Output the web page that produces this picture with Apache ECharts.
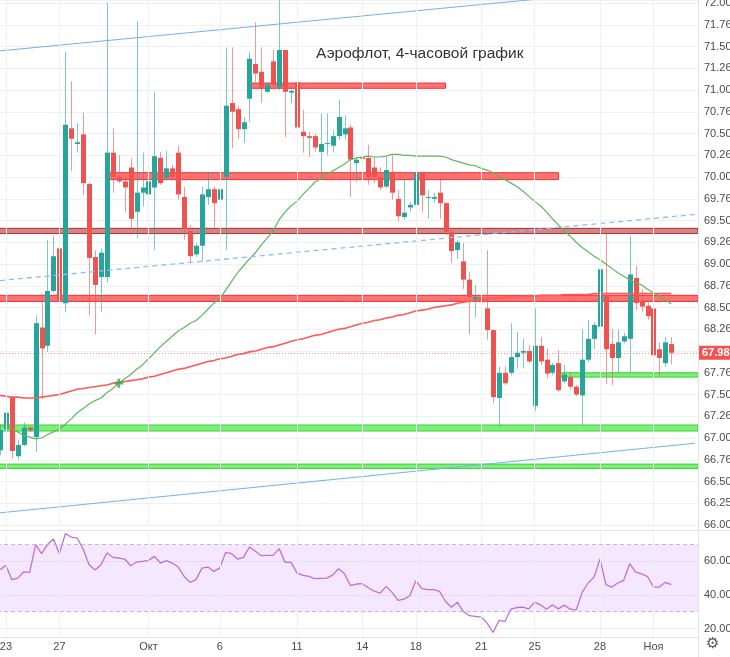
<!DOCTYPE html>
<html><head><meta charset="utf-8">
<script src="https://cdn.jsdelivr.net/npm/echarts/dist/echarts.min.js"></script>
<style>html,body{margin:0;padding:0;background:#fff}#c{width:730px;height:657px}</style>
</head><body><div id="c"></div>
<script>
// ---- data ----
const opens = [66.86,67.10,67.47,66.79,66.92,67.12,67.01,68.27,68.06,68.69,69.18,68.55,70.56,70.38,70.49,69.92,69.08,68.85,68.85,70.28,70.00,69.95,70.11,69.60,69.82,69.80,69.88,70.22,69.99,70.10,70.28,69.77,69.38,69.11,69.21,69.77,69.86,69.74,70.00,70.85,70.78,70.55,70.90,71.30,71.21,70.98,71.33,71.03,71.46,70.97,71.09,70.52,70.47,70.47,70.29,70.38,70.36,70.47,70.49,70.57,70.16,70.23,70.22,70.11,70.00,69.89,70.06,69.75,69.54,69.65,69.68,70.05,69.76,69.75,69.82,69.70,69.37,69.16,69.03,68.82,68.59,68.62,68.49,68.24,67.46,67.75,67.75,67.93,67.98,68.00,67.37,68.06,67.90,67.75,67.86,67.65,67.70,67.59,67.49,67.90,68.14,68.28,68.63,68.08,67.92,68.11,68.14,68.84,68.57,68.52,68.49,68.02,67.86,68.08];
const highs = [67.15,67.34,67.48,66.98,67.18,67.13,68.41,68.65,69.28,69.33,69.22,71.44,71.10,70.62,70.74,69.94,69.16,69.18,72.00,70.56,70.25,70.00,70.22,71.79,70.28,70.10,70.98,70.29,70.30,70.14,70.36,69.89,69.45,69.24,69.89,70.06,69.89,69.89,71.49,71.49,70.82,70.69,71.44,71.78,71.49,71.09,71.46,72.03,71.46,71.03,71.21,70.77,70.52,70.50,70.73,70.73,70.54,70.89,70.71,70.60,70.23,70.28,70.37,70.23,70.11,70.23,70.25,69.85,69.97,69.71,70.10,70.06,69.85,69.82,69.97,69.71,69.41,69.28,69.24,68.91,68.76,68.68,69.16,68.25,67.82,67.82,68.32,68.22,68.14,68.07,68.49,68.16,68.03,67.86,68.01,67.84,67.76,67.61,68.25,68.36,68.33,68.96,69.37,68.25,68.25,68.21,69.33,68.98,68.71,68.56,68.72,68.10,68.16,68.16];
const lows = [66.80,67.07,66.76,66.75,66.90,67.07,66.84,67.45,67.99,68.67,68.32,68.45,70.07,70.28,69.79,68.41,68.19,68.45,68.79,69.82,69.93,69.59,69.40,69.30,69.66,69.56,69.16,69.91,69.97,69.97,69.74,69.28,69.01,69.08,69.03,69.68,69.42,69.68,69.16,70.33,70.44,70.39,70.63,71.09,70.85,70.97,71.03,71.00,70.46,70.85,70.43,70.28,70.23,70.29,70.02,70.25,70.28,70.43,70.43,69.77,69.94,70.08,69.91,69.93,69.85,69.87,69.74,69.49,69.51,69.60,69.33,69.59,69.52,69.71,69.52,69.33,69.01,69.06,68.71,68.19,68.39,68.53,68.13,67.40,67.13,67.61,67.72,67.80,67.80,67.86,67.31,67.84,67.69,67.72,67.53,67.63,67.56,67.48,67.15,67.87,68.02,68.24,67.62,67.61,67.75,68.09,67.75,68.47,68.45,68.36,67.93,67.71,67.82,67.85];
const closes = [67.09,67.29,66.85,66.92,67.12,67.09,68.32,68.03,68.69,69.09,68.57,70.60,70.44,70.40,69.93,69.07,68.76,69.13,70.28,70.00,69.95,69.88,69.52,69.82,69.88,69.95,70.24,69.93,70.10,70.00,69.80,69.40,69.09,69.21,69.80,69.86,69.70,69.86,70.82,70.75,70.55,70.63,71.36,71.19,71.03,71.06,71.06,71.46,70.98,70.99,70.57,70.47,70.45,70.34,70.38,70.39,70.47,70.69,70.56,70.20,70.20,70.21,70.00,70.00,69.88,70.08,69.82,69.55,69.59,69.68,70.05,69.79,69.77,69.77,69.70,69.37,69.15,69.25,68.82,68.62,68.62,68.56,68.24,67.47,67.75,67.63,67.93,67.98,68.00,67.88,68.06,67.88,67.74,67.84,67.55,67.73,67.59,67.50,67.90,68.14,68.30,68.94,68.02,67.92,68.10,68.17,68.88,68.55,68.51,68.40,67.95,67.92,68.10,67.98];
const maLong = [67.49,67.48,67.47,67.47,67.46,67.46,67.46,67.47,67.48,67.49,67.50,67.52,67.54,67.56,67.57,67.58,67.59,67.60,67.61,67.63,67.64,67.65,67.66,67.67,67.68,67.70,67.71,67.73,67.75,67.77,67.79,67.80,67.82,67.84,67.86,67.88,67.89,67.91,67.92,67.94,67.96,67.97,67.99,68.00,68.02,68.04,68.05,68.07,68.09,68.11,68.13,68.14,68.16,68.18,68.19,68.21,68.23,68.25,68.26,68.28,68.30,68.32,68.33,68.35,68.36,68.38,68.39,68.41,68.42,68.44,68.46,68.47,68.48,68.50,68.51,68.52,68.53,68.55,68.56,68.57,68.58,68.59,68.60,68.61,68.61,68.62,68.62,68.62,68.63,68.63,68.63,68.64,68.64,68.64,68.64,68.65,68.65,68.65,68.65,68.65,68.66,68.66,68.66,68.66,68.66,68.66,68.66,68.66,68.66,68.66,68.66,68.66,68.66,68.66];
const maShort = [67.15,67.13,67.10,67.07,67.03,67.01,66.99,67.00,67.04,67.07,67.10,67.16,67.22,67.29,67.34,67.39,67.43,67.46,67.52,67.57,67.63,67.68,67.73,67.79,67.84,67.91,67.98,68.05,68.11,68.17,68.23,68.27,68.32,68.35,68.41,68.48,68.55,68.60,68.70,68.80,68.90,68.98,69.06,69.13,69.22,69.30,69.38,69.51,69.60,69.67,69.72,69.80,69.87,69.94,69.98,70.03,70.07,70.11,70.15,70.20,70.22,70.23,70.24,70.23,70.23,70.24,70.26,70.26,70.25,70.25,70.24,70.24,70.24,70.24,70.24,70.23,70.20,70.18,70.16,70.14,70.13,70.10,70.08,70.05,70.01,69.97,69.93,69.89,69.84,69.78,69.72,69.67,69.60,69.52,69.45,69.38,69.32,69.25,69.19,69.14,69.09,69.05,69.00,68.95,68.90,68.86,68.82,68.78,68.76,68.71,68.67,68.63,68.59,68.54];
const rsi = [55.0,57.6,49.1,50.0,53.8,53.4,70.0,64.6,70.0,73.3,64.6,76.5,74.5,73.9,67.4,58.0,54.8,58.0,65.0,62.4,62.0,61.4,57.4,59.6,60.0,60.6,63.0,59.0,60.4,59.0,56.6,51.0,47.5,49.1,56.0,56.6,54.0,56.0,65.4,64.6,61.4,62.4,68.6,66.0,63.4,63.6,63.6,67.6,59.4,59.4,53.0,51.6,51.0,49.7,49.9,50.0,51.8,55.6,52.6,45.5,46.5,46.7,44.3,42.2,41.1,45.1,41.5,36.7,37.5,39.5,48.5,43.7,43.1,43.1,42.1,36.1,32.7,35.7,30.1,27.6,27.2,26.8,23.2,17.6,24.8,24.2,31.5,32.5,32.7,31.7,35.7,34.1,31.5,34.1,31.7,33.9,31.5,31.1,41.5,47.1,50.6,61.4,46.1,44.7,47.1,48.7,58.6,53.6,52.6,51.0,44.7,44.7,47.5,46.1];
const totalSlots = 118;
const categories = Array.from({length: totalSlots}, (_, i) => String(i));
const dateLabelIdx = [1,10,25,37,50,61,70,81,90,101,110];
const dateLabelText = ['23','27','Окт','6','11','14','18','21','25','28','Ноя'];
const priceTickLabels = ['66.00','66.25','66.50','66.76','67.00','67.26','67.50','67.76','68.00','68.26','68.50','68.76','69.00','69.26','69.50','69.76','70.00','70.26','70.50','70.76','71.00','71.26','71.50','71.76','72.00'];
const rsiTickValues = [20, 40, 60];
const rsiTickLabels = ['20.00','40.00','60.00'];
const lastPrice = 67.98;
const upperTrend = [[0,71.45],[117,72.22]];
const midTrend = [[0,68.81],[117,69.57]];
const lowerTrend = [[0,66.14],[117,66.94]];
// zones: [lowPrice, highPrice, fromIndex|null, toIndex|null]
const redZonesBright = [[71.02,71.08,42,75],[69.97,70.05,18,94],[68.57,68.64,null,null]];
const redZonesDark = [[69.35,69.41,null,null]];
const greenZones = [[67.08,67.15,null,null],[66.65,66.70,null,null],[67.70,67.75,94,null]];
const crossPoint = [20, 67.63];
const title = 'Аэрофлот, 4-часовой график';

// ---- chart ----
const chart = echarts.init(document.getElementById('c'));
const FONT = 'Liberation Sans';
const UP = '#26a69a', DOWN = '#ef5350';
const UP_WICK = 'rgba(38,166,154,0.6)', DOWN_WICK = 'rgba(239,83,80,0.6)';
function zone(z, fill, border) {
  const a = {yAxis: z[1], itemStyle: {color: fill, borderColor: border, borderWidth: 1}};
  const b = {yAxis: z[0]};
  if (z[2] !== null) a.xAxis = z[2];
  if (z[3] !== null) b.xAxis = z[3];
  return [a, b];
}
const zones = [].concat(
  redZonesBright.map(z => zone(z, 'rgba(255,60,60,0.72)', 'rgba(240,50,50,1)')),
  redZonesDark.map(z => zone(z, 'rgba(175,35,35,0.55)', 'rgba(170,30,30,0.9)')),
  greenZones.map(z => zone(z, 'rgba(60,230,50,0.65)', 'rgba(40,210,40,0.9)'))
);
const vLines = dateLabelIdx.map(i => ({xAxis: i}));
const gridLineStyle = {color: '#eef0f4', width: 1, type: 'solid'};
const candleData = opens.map((o, i) => [i, o, closes[i], lows[i], highs[i]]);
function renderCandle(params, api) {
  const idx = api.value(0), o = api.value(1), c = api.value(2), l = api.value(3), h = api.value(4);
  const xc = Math.round(api.coord([idx, o])[0]);
  const oy = api.coord([idx, o])[1], cy = api.coord([idx, c])[1];
  const ly = api.coord([idx, l])[1], hy = api.coord([idx, h])[1];
  const up = c >= o;
  const w = 5;
  const top = Math.min(oy, cy), hgt = Math.max(1, Math.abs(oy - cy));
  return {type: 'group', children: [
    {type: 'line', shape: {x1: xc + 0.5, y1: hy, x2: xc + 0.5, y2: ly}, style: {stroke: up ? UP_WICK : DOWN_WICK, lineWidth: 1}},
    {type: 'rect', shape: {x: xc - 2, y: top, width: w, height: hgt}, style: {fill: up ? UP : DOWN}}
  ]};
}
const option = {
  animation: false,
  backgroundColor: '#ffffff',
  grid: [
    {left: -3, right: 32, top: 0, height: 525, outerBoundsMode: 'none', containLabel: false},
    {left: -3, right: 32, top: 530, height: 107, outerBoundsMode: 'none', containLabel: false}
  ],
  xAxis: [
    {type: 'category', gridIndex: 0, data: categories, boundaryGap: true,
     axisLine: {show: false}, axisTick: {show: false}, axisLabel: {show: false}, splitLine: {show: false}},
    {type: 'category', gridIndex: 1, data: categories, boundaryGap: true,
     axisLine: {show: true, lineStyle: {color: '#e0e3eb'}}, axisTick: {show: false}, splitLine: {show: false},
     axisLabel: {show: true, margin: 4, fontSize: 11, fontFamily: FONT, color: '#4a4a4a',
       interval: (idx) => dateLabelIdx.indexOf(idx) >= 0,
       formatter: (val, idx) => { const k = dateLabelIdx.indexOf(idx); return k >= 0 ? dateLabelText[k] : ''; }}}
  ],
  yAxis: [
    {type: 'value', gridIndex: 0, position: 'right', min: 66, max: 72.035, interval: 0.25, scale: true,
     axisLine: {show: false}, axisTick: {show: false},
     splitLine: {show: true, lineStyle: gridLineStyle},
     axisLabel: {margin: 6, fontSize: 11, fontFamily: FONT, color: '#4a4a4a',
       formatter: (v) => { const k = Math.round((v - 66) / 0.25); return Math.abs(v - (66 + k * 0.25)) < 1e-6 ? (priceTickLabels[k] || '') : ''; }}},
    {type: 'value', gridIndex: 1, position: 'right', min: 14.92, max: 78.7, minInterval: 20, maxInterval: 20, splitNumber: 3,
     axisLine: {show: false}, axisTick: {show: false},
     splitLine: {show: true, lineStyle: gridLineStyle},
     axisLabel: {margin: 6, fontSize: 11, fontFamily: FONT, color: '#4a4a4a',
       formatter: (v) => { for (let k = 0; k < rsiTickValues.length; k++) if (Math.abs(v - rsiTickValues[k]) < 1e-6) return rsiTickLabels[k]; return ''; }}}
  ],
  series: [
    {type: 'line', name: 'gridV0', xAxisIndex: 0, yAxisIndex: 0, data: closes, z: 1, silent: true,
     symbol: 'none', lineStyle: {opacity: 0, width: 0},
     markLine: {silent: true, symbol: ['none','none'], label: {show: false}, lineStyle: gridLineStyle, data: vLines}},
    {type: 'line', name: 'gridV1', xAxisIndex: 1, yAxisIndex: 1, data: rsi, z: 1, silent: true,
     symbol: 'none', lineStyle: {opacity: 0, width: 0},
     markArea: {silent: true, data: [[{yAxis: 70, itemStyle: {color: 'rgba(195,110,250,0.16)'}}, {yAxis: 30}]]},
     markLine: {silent: true, symbol: ['none','none'], label: {show: false}, lineStyle: gridLineStyle, data: vLines}},
    {type: 'line', name: 'rsiBounds', xAxisIndex: 1, yAxisIndex: 1, data: rsi, z: 2, silent: true,
     symbol: 'none', lineStyle: {opacity: 0, width: 0},
     markLine: {silent: true, symbol: ['none','none'], label: {show: false},
       lineStyle: {color: '#c8b4d8', width: 1, type: [4, 3]}, data: [{yAxis: 70}, {yAxis: 30}]}},
    {type: 'line', name: 'zones', xAxisIndex: 0, yAxisIndex: 0, data: closes, z: 2, silent: true,
     symbol: 'none', lineStyle: {opacity: 0, width: 0},
     markArea: {silent: true, data: zones}},
    {type: 'custom', name: 'price', xAxisIndex: 0, yAxisIndex: 0, z: 3, silent: true,
     data: candleData, encode: {x: 0, y: [1, 2, 3, 4]}, renderItem: renderCandle},
    {type: 'line', name: 'maLong', xAxisIndex: 0, yAxisIndex: 0, data: maLong, z: 4, symbol: 'none', silent: true,
     lineStyle: {color: '#ff5a5a', width: 1.6}},
    {type: 'line', name: 'maShort', xAxisIndex: 0, yAxisIndex: 0, data: maShort, z: 4, symbol: 'none', silent: true,
     lineStyle: {color: '#5cb85c', width: 1.2}},
    {type: 'line', name: 'upper', xAxisIndex: 0, yAxisIndex: 0, data: upperTrend, z: 4, symbol: 'none', silent: true,
     lineStyle: {color: '#6fb2f2', width: 1}},
    {type: 'line', name: 'mid', xAxisIndex: 0, yAxisIndex: 0, data: midTrend, z: 4, symbol: 'none', silent: true,
     lineStyle: {color: '#86c0f5', width: 1.3, type: [5, 4]}},
    {type: 'line', name: 'lower', xAxisIndex: 0, yAxisIndex: 0, data: lowerTrend, z: 4, symbol: 'none', silent: true,
     lineStyle: {color: '#6fb2f2', width: 1}},
    {type: 'line', name: 'last', xAxisIndex: 0, yAxisIndex: 0, data: closes, z: 6, silent: true,
     symbol: 'none', lineStyle: {opacity: 0, width: 0},
     markLine: {silent: true, symbol: ['none','none'],
       data: [{yAxis: lastPrice, lineStyle: {color: 'rgba(239,83,80,0.6)', width: 1, type: [1, 2]},
         label: {show: true, position: 'end', distance: 0, formatter: lastPrice.toFixed(2), color: '#ffffff',
           backgroundColor: '#f05350', padding: [2, 4, 1, 4], fontSize: 11, fontFamily: FONT, fontWeight: 'bold'}}]}},
    {type: 'scatter', name: 'cross', xAxisIndex: 0, yAxisIndex: 0, data: [crossPoint], z: 5, silent: true,
     symbol: 'path://M3.5,0H6.5V3.5H10V6.5H6.5V10H3.5V6.5H0V3.5H3.5Z', symbolSize: 9, itemStyle: {color: '#43a047'}},
    {type: 'line', name: 'rsi', xAxisIndex: 1, yAxisIndex: 1, data: rsi, z: 4, symbol: 'none', silent: true,
     lineStyle: {color: '#bf6fdc', width: 1.3}}
  ],
  graphic: [
    {type: 'line', shape: {x1: 0, y1: 530.5, x2: 730, y2: 530.5}, style: {stroke: '#e0e3eb', lineWidth: 1}, z: 10},
    {type: 'line', shape: {x1: 698.5, y1: 0, x2: 698.5, y2: 657}, style: {stroke: '#e0e3eb', lineWidth: 1}, z: 10},
    {type: 'text', left: 316, top: 46, z: 10,
     style: {text: title, fontSize: 15.5, fontFamily: FONT, fill: '#333333'}},
    {type: 'text', left: 706, top: 637, z: 10,
     style: {text: '⚙', fontSize: 15, fontFamily: 'DejaVu Sans', fill: '#555555'}}
  ]
};
chart.setOption(option);
</script></body></html>
